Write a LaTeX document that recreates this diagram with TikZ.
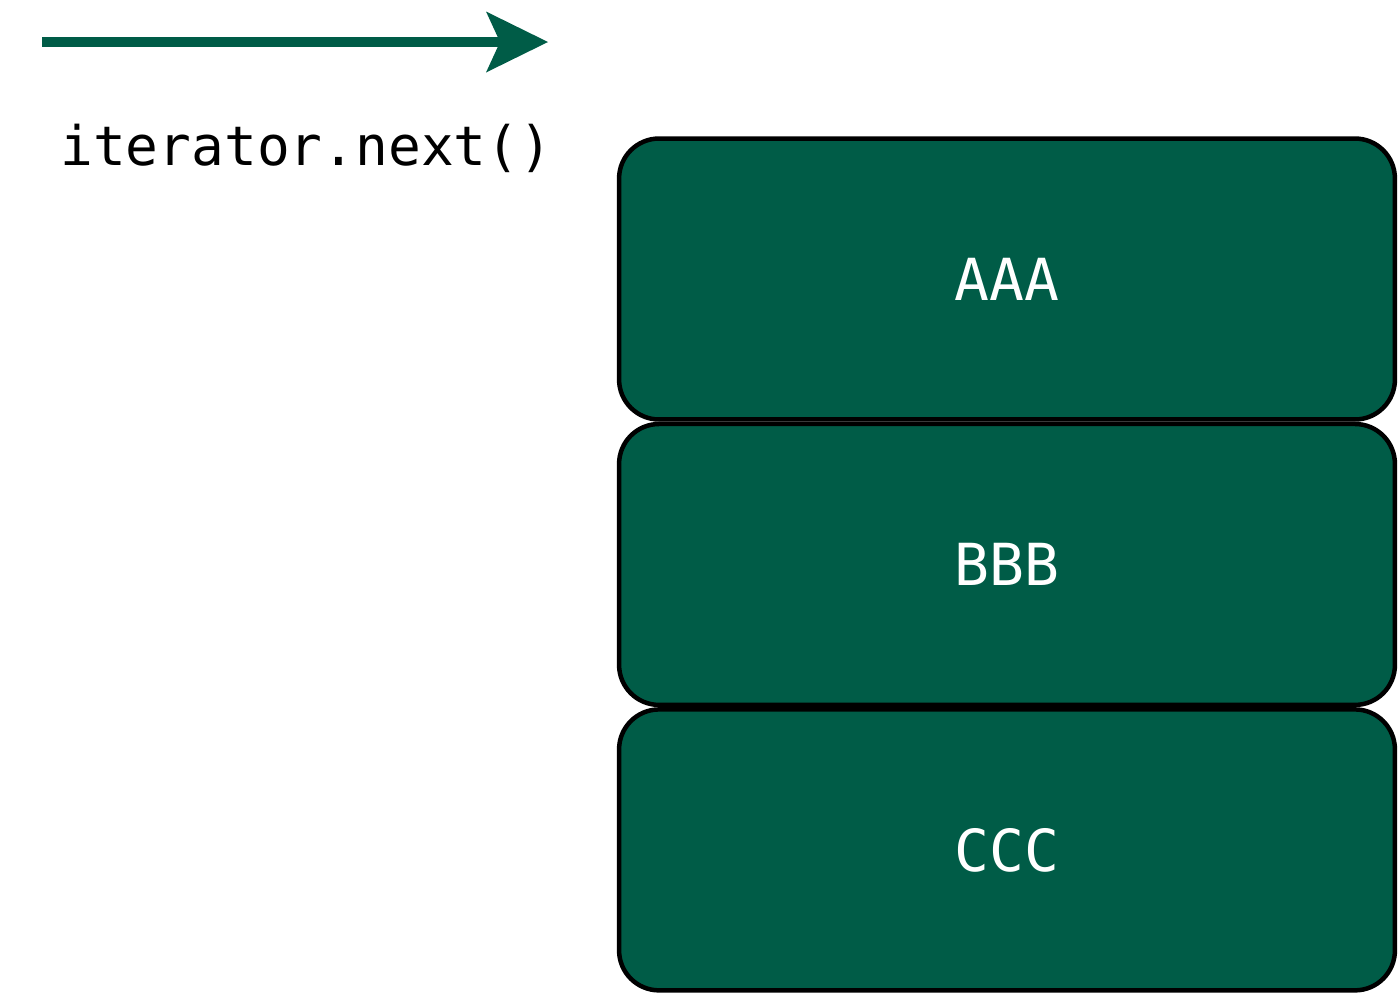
\documentclass[tikz,border=0pt]{standalone}
\usepackage{fontspec}
\setmonofont{DejaVu Sans Mono}
\usetikzlibrary{arrows.meta}
\usetikzlibrary{positioning}

\definecolor{boxgreen}{HTML}{005C47}

\tikzset{
  item/.style={draw=black, line width=0.09cm, fill=boxgreen, rounded corners=0.8cm,
    minimum width=15.52cm, minimum height=5.62cm, inner sep=0pt,
    text=white, font=\ttfamily\fontsize{33}{36}\selectfont},
  moveto/.style={boxgreen, line width=0.2cm,
    -{Stealth[length=1.24cm, width=1.22cm, inset=0.28cm, line width=0pt]}}
}

\begin{document}
\begin{tikzpicture}[x=0.02cm, y=-0.02cm]
\useasboundingbox (0,0) rectangle (1400,995);

% the arrow and its label
\coordinate (start) at (42,42);
\coordinate (tip) at (548,42);
\draw[moveto] (start)--(tip);
\node[anchor=base west, inner sep=0pt, font=\ttfamily\fontsize{31}{34}\selectfont] (call) at (60,165) {iterator.next()};

% the stacked items
\node[item] (aaa) at (1007,279) {AAA};
\node[item, below=0cm of aaa] (bbb) {BBB};
\node[item, below=0cm of bbb] (ccc) {CCC};

\end{tikzpicture}
\end{document}
